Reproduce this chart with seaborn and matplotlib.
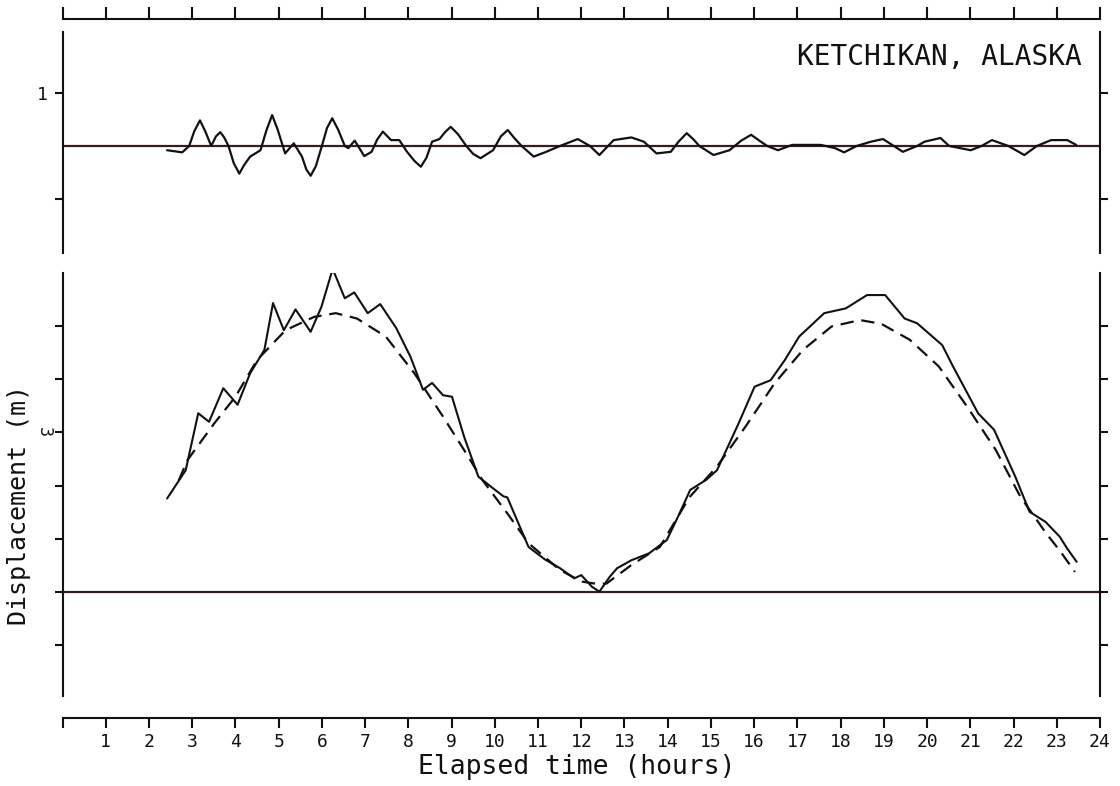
import matplotlib
matplotlib.use("Agg")
import matplotlib.pyplot as plt
import seaborn as sns
import pandas as pd
import numpy as np

# ---------------- data ----------------
res_hours = [2.42, 2.77, 2.93, 3.05, 3.18, 3.30, 3.44, 3.55, 3.65, 3.74, 3.84, 3.96, 4.09, 4.20,
             4.34, 4.58, 4.72, 4.85, 4.98, 5.15, 5.35, 5.54, 5.64, 5.74, 5.86, 6.00, 6.12, 6.24,
             6.38, 6.53, 6.61, 6.76, 6.98, 7.15, 7.28, 7.41, 7.60, 7.79, 7.97, 8.14, 8.29, 8.42,
             8.55, 8.72, 8.85, 8.98, 9.15, 9.34, 9.50, 9.67, 9.96, 10.14, 10.30, 10.45, 10.62,
             10.90, 11.19, 11.51, 11.92, 12.20, 12.42, 12.75, 13.16, 13.45, 13.74, 14.07, 14.25,
             14.44, 14.60, 14.73, 15.06, 15.43, 15.70, 15.93, 16.12, 16.30, 16.55, 16.88, 17.54,
             17.87, 18.08, 18.37, 18.70, 18.98, 19.23, 19.44, 19.77, 19.94, 20.31, 20.51, 21.01,
             21.26, 21.50, 21.88, 22.25, 22.54, 22.87, 23.24, 23.45]
res_disp = [-0.08, -0.12, 0.0, 0.28, 0.48, 0.28, 0.0, 0.18, 0.26, 0.16, 0.0, -0.32, -0.52, -0.36,
            -0.20, -0.08, 0.30, 0.58, 0.30, -0.14, 0.05, -0.20, -0.44, -0.56, -0.38, 0.0, 0.34, 0.52,
            0.30, 0.0, -0.04, 0.10, -0.19, -0.11, 0.12, 0.27, 0.11, 0.11, -0.11, -0.28, -0.39, -0.22,
            0.08, 0.13, 0.26, 0.36, 0.22, 0.0, -0.15, -0.23, -0.08, 0.18, 0.30, 0.15, 0.0,
            -0.20, -0.11, 0.0, 0.13, 0.0, -0.17, 0.11, 0.16, 0.08, -0.14, -0.11, 0.08,
            0.24, 0.12, 0.0, -0.17, -0.08, 0.10, 0.21, 0.10, 0.0, -0.08, 0.02, 0.02,
            -0.04, -0.12, 0.0, 0.08, 0.13, 0.0, -0.11, 0.0, 0.08, 0.15, 0.0, -0.08,
            0.0, 0.11, 0.0, -0.17, 0.0, 0.11, 0.11, 0.02]

obs_hours = [2.42, 2.85, 3.14, 3.39, 3.72, 4.05, 4.34, 4.67, 4.87, 5.12, 5.39, 5.74, 5.99, 6.25,
             6.53, 6.75, 7.06, 7.35, 7.72, 8.05, 8.34, 8.55, 8.80, 9.01, 9.29, 9.62, 9.96, 10.20,
             10.29, 10.78, 11.15, 11.51, 11.84, 12.00, 12.25, 12.42, 12.66, 12.83, 13.16, 13.57,
             13.98, 14.24, 14.52, 14.89, 15.14, 15.64, 16.01, 16.38, 16.71, 17.04, 17.62, 18.12,
             18.61, 19.03, 19.48, 19.77, 20.35, 20.60, 21.18, 21.55, 22.04, 22.37, 22.74, 23.07,
             23.24, 23.46]
obs_disp = [1.76, 2.29, 3.36, 3.20, 3.83, 3.52, 4.11, 4.55, 5.43, 4.92, 5.31, 4.89, 5.36, 6.07,
            5.52, 5.63, 5.24, 5.41, 4.96, 4.42, 3.80, 3.93, 3.70, 3.67, 2.92, 2.17, 1.95, 1.80,
            1.78, 0.85, 0.62, 0.45, 0.26, 0.32, 0.10, 0.01, 0.29, 0.45, 0.60, 0.73,
            0.98, 1.42, 1.92, 2.11, 2.29, 3.17, 3.86, 3.98, 4.36, 4.80, 5.24, 5.33,
            5.58, 5.58, 5.14, 5.05, 4.64, 4.24, 3.36, 3.05, 2.17, 1.51, 1.32, 1.04,
            0.82, 0.57]

fit_hours = [2.69, 2.89, 3.51, 4.00, 4.50, 5.16, 5.82, 6.32, 6.81, 7.48, 8.14, 8.80, 9.29, 9.71,
             10.29, 10.78, 11.50, 12.00, 12.33, 12.58, 13.16, 13.82, 14.50, 15.14, 15.80, 16.47,
             17.13, 17.79, 18.45, 18.94, 19.60, 20.27, 20.93, 21.59, 22.16, 22.50, 22.74, 23.07,
             23.42]
fit_disp = [2.10, 2.48, 3.17, 3.67, 4.36, 4.92, 5.17, 5.24, 5.14, 4.80, 4.11, 3.30, 2.67, 2.11,
            1.48, 0.92, 0.42, 0.20, 0.16, 0.16, 0.51, 0.85, 1.78, 2.36, 3.11, 3.92,
            4.55, 4.99, 5.11, 5.04, 4.74, 4.24, 3.48, 2.67, 1.79, 1.40, 1.12, 0.78,
            0.38]

hour_ticks = list(range(0, 25))
hour_labels = [""] + [str(h) for h in range(1, 25)]
title_text = "KETCHIKAN, ALASKA"
xlabel_text = "Elapsed time (hours)"
ylabel_text = "Displacement (m)"

# ---------------- style ----------------
sns.set_style("white")
plt.rcParams["font.family"] = ["DejaVu Sans Mono", "DejaVu Sans"]
INK = "#111111"
BASE = "#3a1c1c"

W, H = 1120, 786
fig = plt.figure(figsize=(W / 100, H / 100), dpi=100)

def frac(x0, y0, x1, y1):
    return [x0 / W, (H - y1) / H, (x1 - x0) / W, (y1 - y0) / H]

ax_top = fig.add_axes(frac(62.5, 32, 1100, 253))
ax_bot = fig.add_axes(frac(62.5, 272.7, 1100, 696))

res_df = pd.DataFrame({"hours": res_hours, "disp": res_disp})
obs_df = pd.DataFrame({"hours": obs_hours, "disp": obs_disp})
fit_df = pd.DataFrame({"hours": fit_hours, "disp": fit_disp})

# top panel: residual
ax_top.axhline(0, color=BASE, lw=1.6, zorder=1)
sns.lineplot(data=res_df, x="hours", y="disp", ax=ax_top, color=INK, lw=1.6,
             estimator=None, sort=False, zorder=2, solid_joinstyle="round")

# bottom panel: observed and fitted tide
ax_bot.axhline(0, color=BASE, lw=1.6, zorder=1)
sns.lineplot(data=fit_df, x="hours", y="disp", ax=ax_bot, color=INK, lw=1.6,
             estimator=None, sort=False, linestyle=(0, (6, 3.5)), zorder=2)
sns.lineplot(data=obs_df, x="hours", y="disp", ax=ax_bot, color=INK, lw=1.5,
             estimator=None, sort=False, zorder=3, solid_joinstyle="round")

for ax in (ax_top, ax_bot):
    ax.set_xlim(0, 24)
    ax.set_xlabel("")
    ax.set_ylabel("")
    for s in ax.spines.values():
        s.set_linewidth(1.5)
        s.set_color(INK)
    ax.yaxis.set_ticks_position("both")
    ax.tick_params(axis="y", which="both", direction="out", length=5.5, width=1.5,
                   colors=INK, labelsize=13, left=True, right=True)

ax_top.set_ylim(-2.01, 2.14)
ax_top.set_yticks([-1, 1])
ax_top.set_yticklabels(["", "1"])
ax_top.tick_params(axis="y", pad=5)
ax_top.spines["bottom"].set_visible(False)
ax_top.spines["top"].set_position(("outward", 9.2))
ax_top.xaxis.set_ticks_position("top")
ax_top.set_xticks(hour_ticks)
ax_top.tick_params(axis="x", direction="out", length=8.5, width=1.5, labeltop=False,
                   labelbottom=False, colors=INK)

ax_bot.set_ylim(-1.95, 6.0)
ax_bot.set_yticks([-1, 0, 1, 2, 3, 4, 5])
ax_bot.set_yticklabels(["", "", "", "", "3", "", ""])
for lab in ax_bot.get_yticklabels():
    lab.set_rotation(270)
    lab.set_va("center")
    lab.set_fontsize(12)
ax_bot.tick_params(axis="y", pad=1.5)
ax_bot.spines["top"].set_visible(False)
ax_bot.spines["bottom"].set_position(("outward", 15.8))
ax_bot.xaxis.set_ticks_position("bottom")
ax_bot.set_xticks(hour_ticks)
ax_bot.set_xticklabels(hour_labels)
ax_bot.tick_params(axis="x", direction="out", length=7.5, width=1.5, labelsize=13,
                   pad=3, colors=INK)

fig.text(1082 / W, 1 - 57 / H, title_text, ha="right", va="center", fontsize=20, color=INK)
fig.text(577 / W, 1 - 767 / H, xlabel_text, ha="center", va="center", fontsize=19, color=INK)
fig.text(19 / W, 1 - 505 / H, ylabel_text, ha="center", va="center", rotation=90,
         fontsize=18, color=INK)

fig.savefig("out.png", dpi=100, facecolor="white")
